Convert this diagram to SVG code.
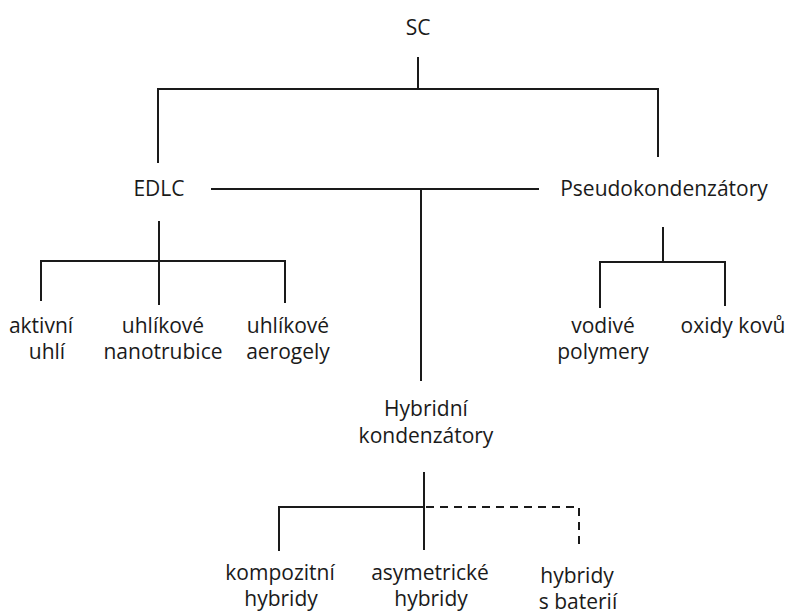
<svg xmlns="http://www.w3.org/2000/svg" width="788" height="615" viewBox="0 0 788 615">
<style>
text{font-family:"Open Sans","Noto Sans",sans-serif;font-size:21px;fill:#1a1a1a;text-anchor:middle}
.c line{stroke:#1a1a1a;stroke-width:2;stroke-linecap:square}
.c .d{stroke-dasharray:8 6;stroke-linecap:butt}
</style>
<rect width="788" height="615" fill="#fff"/>
<g class="c" id="connectors">
<line x1="418" y1="58" x2="418" y2="89"/>
<line x1="158" y1="89" x2="658" y2="89"/>
<line x1="158" y1="89" x2="158" y2="162"/>
<line x1="658" y1="89" x2="658" y2="156"/>
<line x1="212" y1="189" x2="538" y2="189"/>
<line x1="421" y1="189" x2="421" y2="380"/>
<line x1="159" y1="222" x2="159" y2="261"/>
<line x1="41" y1="261" x2="285" y2="261"/>
<line x1="41" y1="261" x2="41" y2="300"/>
<line x1="159" y1="261" x2="159" y2="304"/>
<line x1="285" y1="261" x2="285" y2="302"/>
<line x1="663" y1="228" x2="663" y2="262"/>
<line x1="600" y1="262" x2="725" y2="262"/>
<line x1="600" y1="262" x2="600" y2="307"/>
<line x1="725" y1="262" x2="725" y2="305"/>
<line x1="424" y1="473" x2="424" y2="549"/>
<line x1="279" y1="507" x2="424" y2="507"/>
<line x1="279" y1="507" x2="279" y2="550"/>
<line class="d" x1="426" y1="507" x2="580" y2="507"/>
<line class="d" x1="579" y1="508" x2="579" y2="546"/>
</g>
<g id="sc"><text x="418" y="35">SC</text></g>
<g id="edlc"><text x="159" y="196">EDLC</text></g>
<g id="pseudo"><text x="664" y="196">Pseudokondenzátory</text></g>
<g id="aktivni"><text x="41" y="333">aktivní</text><text x="47" y="359">uhlí</text></g>
<g id="nanotrubice"><text x="163" y="333">uhlíkové</text><text x="163" y="359">nanotrubice</text></g>
<g id="aerogely"><text x="288" y="333">uhlíkové</text><text x="288" y="359">aerogely</text></g>
<g id="polymery"><text x="603" y="333">vodivé</text><text x="603" y="359">polymery</text></g>
<g id="oxidy"><text x="733" y="333">oxidy kovů</text></g>
<g id="hybridni"><text x="426" y="416">Hybridní</text><text x="426" y="443">kondenzátory</text></g>
<g id="kompozitni"><text x="280" y="580">kompozitní</text><text x="281" y="606">hybridy</text></g>
<g id="asymetricke"><text x="430" y="580">asymetrické</text><text x="431" y="606">hybridy</text></g>
<g id="baterii" style="font-size:20px"><text x="577" y="583">hybridy</text><text x="578" y="609">s baterií</text></g>
</svg>
